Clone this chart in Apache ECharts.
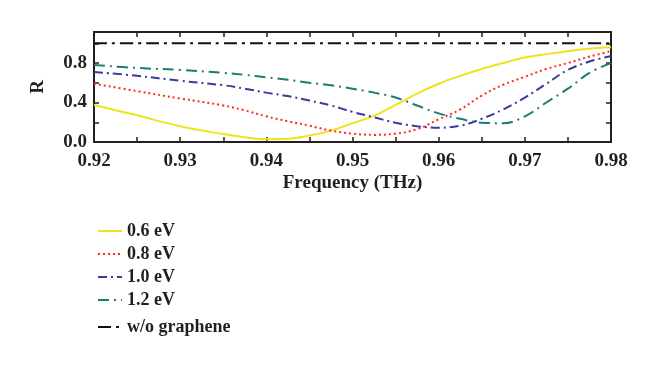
<!DOCTYPE html>
<html>
<head>
<meta charset="utf-8">
<script src="https://cdn.jsdelivr.net/npm/echarts@6/dist/echarts.min.js"></script>
<style>html,body{margin:0;padding:0;background:#fff;}#c{width:660px;height:368px;}</style>
</head>
<body>
<div id="c"></div>
<script>
var freq = [0.92,0.925,0.93,0.935,0.9375,0.94,0.9425,0.945,0.9475,0.95,0.9525,0.955,0.9575,0.96,0.9625,0.965,0.9675,0.97,0.9725,0.975,0.9775,0.98];
var r06 = [0.375,0.27,0.16,0.08,0.048,0.028,0.032,0.065,0.115,0.19,0.265,0.375,0.49,0.59,0.67,0.74,0.80,0.855,0.89,0.92,0.945,0.96];
var r08 = [0.59,0.515,0.44,0.37,0.32,0.26,0.21,0.165,0.115,0.085,0.072,0.085,0.13,0.23,0.33,0.47,0.58,0.66,0.74,0.80,0.865,0.92];
var r10 = [0.71,0.67,0.62,0.575,0.54,0.50,0.465,0.42,0.37,0.305,0.25,0.195,0.16,0.145,0.165,0.235,0.33,0.45,0.59,0.73,0.815,0.87];
var r12 = [0.78,0.75,0.73,0.70,0.68,0.655,0.63,0.60,0.575,0.54,0.50,0.45,0.37,0.29,0.235,0.195,0.19,0.26,0.40,0.54,0.70,0.80];
var rRef = [1.0,1.0,1.0,1.0,1.0,1.0,1.0,1.0,1.0,1.0,1.0,1.0,1.0,1.0,1.0,1.0,1.0,1.0,1.0,1.0,1.0,1.0];
var names = ['0.6 eV','0.8 eV','1.0 eV','1.2 eV','w/o graphene'];
var yTickValues = [0,0.2,0.4,0.6,0.8,1.0];
var yLabelValues = [0,0.4,0.8];
var xTickValues = [0.92,0.925,0.93,0.935,0.94,0.945,0.95,0.955,0.96,0.965,0.97,0.975,0.98];
var xLabelValues = [0.92,0.93,0.94,0.95,0.96,0.97,0.98];

function pairs(ys){ return freq.map(function(f,i){ return [f, ys[i]]; }); }

var FONT = 'Liberation Serif';
var AX = '#231f20';
var lbl = {fontFamily: FONT, fontWeight: 'bold', fontSize: 19, color: '#231f20'};

function xAx(pos, show){
  return {
    type: 'value', position: pos, min: 0.92, max: 0.98,
    axisLine: {show: true, onZero: false, lineStyle: {color: AX, width: 2}},
    axisTick: {show: true, inside: true, length: 5, customValues: xTickValues, lineStyle: {color: AX, width: 1.5}},
    axisLabel: {show: show, customValues: xLabelValues, margin: 10, formatter: function(v){return v.toFixed(2);}, fontFamily: FONT, fontWeight: 'bold', fontSize: 19, color: '#231f20'},
    splitLine: {show: false},
    name: show ? 'Frequency (THz)' : '', nameLocation: 'middle', nameGap: 32,
    nameTextStyle: lbl
  };
}
function yAx(pos, show){
  return {
    type: 'value', position: pos, min: 0, max: 1.114,
    axisLine: {show: true, onZero: false, lineStyle: {color: AX, width: 2}},
    axisTick: {show: true, inside: true, length: 5, customValues: yTickValues, lineStyle: {color: AX, width: 1.5}},
    axisLabel: {show: show, customValues: yLabelValues, margin: 7, formatter: function(v){return v.toFixed(1);}, fontFamily: FONT, fontWeight: 'bold', fontSize: 19, color: '#231f20'},
    splitLine: {show: false},
    name: show ? 'R' : '', nameLocation: 'middle', nameGap: 46, nameRotate: 90,
    nameTextStyle: lbl
  };
}

var styles = [
  {color: '#f2e21c', width: 2, type: 'solid'},
  {color: '#ff2b1c', width: 2, type: [2, 3]},
  {color: '#3e3a9c', width: 2, type: [9, 4, 2, 4]},
  {color: '#1f7b72', width: 2, type: [11, 5, 2, 5]},
  {color: '#111111', width: 2, type: [13, 5, 3, 5]}
];
var datas = [r06, r08, r10, r12, rRef];

var series = datas.map(function(d, i){
  return {
    name: names[i], type: 'line', xAxisIndex: 0, yAxisIndex: 0,
    data: pairs(d), smooth: 0.4, showSymbol: false, symbol: 'none',
    lineStyle: styles[i], itemStyle: {color: styles[i].color},
    emphasis: {disabled: true}, z: i === 4 ? 5 : 3
  };
});

var legText = {fontFamily: FONT, fontWeight: 'bold', fontSize: 18, color: '#231f20'};
var legItem = {opacity: 0, borderWidth: 0};

var chart = echarts.init(document.getElementById('c'), null, {renderer: 'canvas'});
chart.setOption({
  animation: false,
  backgroundColor: '#ffffff',
  grid: {left: 94, right: 49, top: 32, bottom: 226, containLabel: false},
  xAxis: [xAx('bottom', true), xAx('top', false)],
  yAxis: [yAx('left', true), yAx('right', false)],
  legend: [
    {id: 'lg1', data: names.slice(0,4), orient: 'vertical', left: 92, top: 217, itemWidth: 24, itemHeight: 12, itemGap: 5, textStyle: legText, itemStyle: legItem, selectedMode: false},
    {id: 'lg2', data: names.slice(4), orient: 'vertical', left: 92, top: 313, itemWidth: 24, itemHeight: 12, textStyle: legText, itemStyle: legItem, selectedMode: false}
  ],
  series: series
});
</script>
</body>
</html>
